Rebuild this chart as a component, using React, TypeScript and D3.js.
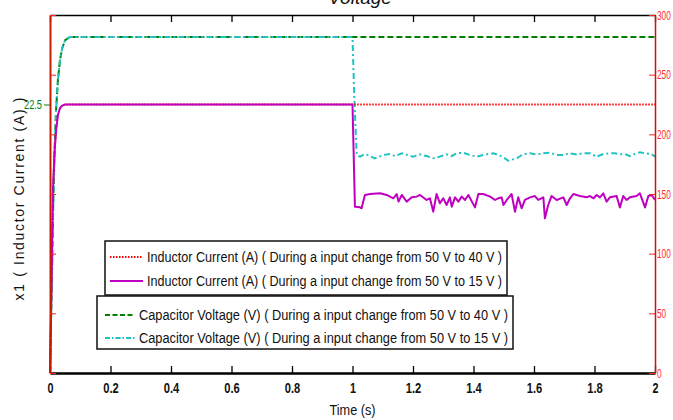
import React, { useEffect, useRef } from "react";
import * as d3 from "d3";

// time axis ticks (s)
const timeTicks = [0, 0.2, 0.4, 0.6, 0.8, 1, 1.2, 1.4, 1.6, 1.8, 2];
const voltTicks = [0, 50, 100, 150, 200, 250, 300];

// start-up transient, shared by both runs
const tStartV = [0, 0.004, 0.008, 0.011, 0.015, 0.02, 0.026, 0.033, 0.04, 0.05, 0.066];
const vStart = [0, 50, 105, 145, 185, 220, 245, 262, 272, 279, 281.5];
const tStartI = [0, 0.004, 0.007, 0.01, 0.015, 0.02, 0.026, 0.033, 0.04, 0.05];
const iStart = [0, 6, 11, 15.5, 18.5, 20.3, 21.6, 22.2, 22.4, 22.5];

// after the input step to 15 V (t >= 1 s)
const tStepI = [
  1.0, 1.008, 1.025, 1.03, 1.041, 1.058, 1.091, 1.113, 1.135, 1.146, 1.152, 1.163, 1.179, 1.196,
  1.212, 1.223, 1.245, 1.256, 1.267, 1.278, 1.289, 1.3, 1.311, 1.322, 1.328, 1.339, 1.35, 1.361,
  1.372, 1.383, 1.405, 1.416, 1.432, 1.455, 1.471, 1.482, 1.493, 1.499, 1.51, 1.526, 1.537, 1.548,
  1.559, 1.57, 1.587, 1.603, 1.614, 1.631, 1.636, 1.647, 1.658, 1.675, 1.697, 1.708, 1.719, 1.73,
  1.752, 1.774, 1.785, 1.797, 1.807, 1.818, 1.829, 1.84, 1.851, 1.873, 1.884, 1.895, 1.906, 1.917,
  1.939, 1.95, 1.967, 1.978, 1.989, 2.0,
];
const iStep = [
  22.5, 13.94, 13.88, 13.8, 14.92, 15.0, 15.06, 14.92, 14.64, 15.0, 14.36, 14.92, 14.36, 14.72,
  14.78, 14.92, 14.5, 14.64, 13.52, 15.0, 14.22, 14.64, 14.08, 14.72, 13.94, 14.72, 14.36, 14.78,
  14.5, 14.92, 13.88, 15.0, 15.0, 14.78, 14.5, 14.64, 14.72, 14.08, 14.5, 15.0, 13.52, 14.72,
  13.8, 14.5, 14.72, 14.83, 14.5, 14.72, 12.96, 14.08, 14.83, 14.5, 14.72, 14.08, 14.64, 15.0,
  14.83, 14.72, 14.83, 14.64, 14.92, 14.72, 15.06, 14.36, 14.72, 14.83, 13.88, 14.83, 14.5, 14.72,
  14.83, 15.06, 13.88, 14.83, 14.92, 14.5,
];
const tStepV = [
  1.0, 1.006, 1.014, 1.025, 1.041, 1.058, 1.074, 1.102, 1.124, 1.141, 1.163, 1.185, 1.201, 1.223,
  1.245, 1.267, 1.289, 1.311, 1.328, 1.344, 1.366, 1.388, 1.41, 1.432, 1.449, 1.466, 1.482, 1.499,
  1.515, 1.543, 1.565, 1.587, 1.609, 1.631, 1.653, 1.675, 1.697, 1.719, 1.741, 1.763, 1.785, 1.807,
  1.829, 1.85, 1.867, 1.884, 1.9, 1.917, 1.933, 1.95, 1.967, 1.989, 2.0,
];
const vStep = [
  281.5, 230, 182.7, 181.3, 183.5, 181.8, 179.9, 182.7, 183.5, 181.8, 184.1, 182.4, 181.3, 183.2,
  181.8, 179.9, 181.3, 183.2, 181.8, 184.1, 184.6, 182.7, 181.3, 182.7, 183.5, 184.1, 182.7, 180.7,
  177.9, 179.9, 183.5, 184.1, 183.0, 184.1, 184.6, 182.7, 182.7, 184.1, 183.2, 184.1, 184.1, 181.3,
  183.5, 184.1, 184.1, 183.2, 183.5, 181.8, 183.5, 184.9, 184.1, 183.5, 181.3,
];

const legendRows = [
  "Inductor Current (A) ( During a input change from 50 V to 40 V )",
  "Inductor Current (A) ( During a input change from 50 V to 15 V )",
  "Capacitor Voltage (V) ( During a input change from 50 V to 40 V )",
  "Capacitor Voltage (V) ( During a input change from 50 V to 15 V )",
];

const FONT = "'Liberation Sans Narrow', 'Arial Narrow', 'Liberation Sans', Arial, sans-serif";

// narrow look: squeeze a label to roughly Arial Narrow width
const narrowWidth = (s: string, digit: number, dot: number) =>
  s.split("").reduce((acc, c) => acc + (c === "." ? dot : digit), 0);

export default function App() {
  const ref = useRef<SVGSVGElement>(null);

  useEffect(() => {
    const node = ref.current;
    if (!node) return;
    const w = 673;
    const h = 420;
    const m = { t: 15, r: 18, b: 47, l: 50 };
    const svg = d3.select(node);
    svg.selectAll("*").remove();

    const x = d3.scaleLinear().domain([0, 2]).range([m.l, w - m.r]);
    const yV = d3.scaleLinear().domain([0, 300]).range([h - m.b, m.t]);
    const yI = d3.scaleLinear().domain([0, 30]).range([h - m.b, m.t]);

    const zip = (ts: number[], vs: number[]) => ts.map((t, i) => [t, vs[i]] as [number, number]);
    const green = [...zip(tStartV, vStart), [2, 281.5] as [number, number]];
    const cyan = [...zip(tStartV, vStart), ...zip(tStepV, vStep)];
    const red = [...zip(tStartI, iStart), [2, 22.5] as [number, number]];
    const purple = [...zip(tStartI, iStart), ...zip(tStepI, iStep)];

    const lineV = d3.line<[number, number]>().x(d => x(d[0])).y(d => yV(d[1]));
    const lineI = d3.line<[number, number]>().x(d => x(d[0])).y(d => yI(d[1]));

    const g = svg.append("g");

    // series (under/over order as in the original)
    g.append("path").attr("d", lineV(green)).attr("fill", "none")
      .attr("stroke", "#008000").attr("stroke-width", 2).attr("stroke-dasharray", "6,3");
    g.append("path").attr("d", lineV(cyan)).attr("fill", "none")
      .attr("stroke", "#1fc3c3").attr("stroke-width", 2).attr("stroke-dasharray", "6,3,2,3");
    g.append("path").attr("d", lineI(red)).attr("fill", "none")
      .attr("stroke", "#ff0000").attr("stroke-width", 1.8).attr("stroke-dasharray", "1.5,1.5");
    g.append("path").attr("d", lineI(purple)).attr("fill", "none")
      .attr("stroke", "#c000c0").attr("stroke-width", 2).attr("stroke-linejoin", "round");

    // top and bottom spines with inward ticks
    const top = g.append("g").attr("transform", `translate(0,${m.t})`)
      .call(d3.axisTop(x).tickValues(timeTicks).tickSizeInner(-7).tickSizeOuter(0).tickFormat(() => ""));
    top.select(".domain").attr("stroke-width", 1.5);
    top.selectAll(".tick line").attr("stroke-width", 1.3);

    const bottom = g.append("g").attr("transform", `translate(0,${h - m.b})`)
      .call(d3.axisBottom(x).tickValues(timeTicks).tickSizeInner(-7).tickSizeOuter(0).tickPadding(10)
        .tickFormat(d => d3.format("")(+d)));
    bottom.select(".domain").attr("stroke-width", 2.5);
    bottom.selectAll(".tick line").attr("stroke-width", 1.3);
    bottom.selectAll<SVGTextElement, number>("text").attr("font-family", FONT).attr("font-size", 14)
      .attr("font-weight", "bold").attr("fill", "#111")
      .attr("textLength", d => narrowWidth(d3.format("")(d), 6, 3.5))
      .attr("lengthAdjust", "spacingAndGlyphs");

    // right voltage axis (red), ticks mirrored on the left
    const right = g.append("g").attr("transform", `translate(${w - m.r},0)`)
      .call(d3.axisRight(yV).tickValues(voltTicks).tickSizeInner(-6).tickSizeOuter(0).tickPadding(2)
        .tickFormat(d => String(d)));
    right.select(".domain").attr("stroke", "#d01010").attr("stroke-width", 1.5);
    right.selectAll(".tick line").attr("stroke", "#ff2020");
    right.selectAll<SVGTextElement, number>("text")
      .attr("font-family", FONT).attr("font-size", 13.5).attr("fill", "#ff2a2a")
      .attr("textLength", d => narrowWidth(String(d), 4.6, 2.5))
      .attr("lengthAdjust", "spacingAndGlyphs");

    const leftTicks = g.append("g").attr("transform", `translate(${m.l},0)`)
      .call(d3.axisLeft(yV).tickValues(voltTicks).tickSizeInner(-6).tickSizeOuter(0).tickFormat(() => ""));
    leftTicks.select(".domain").attr("stroke", "#c81a00").attr("stroke-width", 2);
    leftTicks.selectAll(".tick line").attr("stroke", "#ff2020");

    // left current axis (green), single tick
    const left = g.append("g").attr("transform", `translate(${m.l},0)`)
      .call(d3.axisLeft(yI).tickValues([22.5]).tickSizeInner(6).tickSizeOuter(0).tickPadding(2)
        .tickFormat(d => String(d)));
    left.select(".domain").remove();
    left.selectAll(".tick line").attr("stroke", "#008000");
    left.selectAll("text").attr("font-family", FONT).attr("font-size", 13.5).attr("fill", "#008000")
      .attr("textLength", 18).attr("lengthAdjust", "spacingAndGlyphs");

    // axis titles
    svg.append("text")
      .attr("x", x(1)).attr("y", h - 5).attr("text-anchor", "middle")
      .attr("font-family", FONT).attr("font-size", 15).attr("fill", "#111")
      .attr("textLength", 46).attr("lengthAdjust", "spacingAndGlyphs")
      .text("Time (s)");
    svg.append("text")
      .attr("transform", `translate(24,${(m.t + h - m.b) / 2 + 5}) rotate(-90)`)
      .attr("text-anchor", "middle").attr("font-family", "'Liberation Sans', Arial, sans-serif")
      .attr("font-size", 14).attr("fill", "#111")
      .attr("textLength", 203).attr("lengthAdjust", "spacing")
      .text("x1 ( Inductor Current (A) )");
    svg.append("text")
      .attr("x", 360).attr("y", 4).attr("text-anchor", "middle")
      .attr("font-family", "'Liberation Sans', Arial, sans-serif").attr("font-style", "italic")
      .attr("font-size", 19).attr("fill", "#111")
      .text("Voltage");

    // legends
    const boxes = [
      { x: 105, y: 241, w: 402, h: 54, sx0: 110, sx1: 143, tx: 147, tw: 355, rows: [0, 1], ys: [257, 281] },
      { x: 97, y: 296, w: 416, h: 53, sx0: 105, sx1: 135, tx: 139, tw: 369, rows: [2, 3], ys: [315, 338] },
    ];
    const styles = [
      { stroke: "#ff0000", dash: "1.5,1.5", sw: 1.8 },
      { stroke: "#c000c0", dash: null, sw: 2 },
      { stroke: "#008000", dash: "5,2.5", sw: 2 },
      { stroke: "#1fc3c3", dash: "5,2,1.5,2", sw: 2 },
    ];
    boxes.forEach(b => {
      const lg = svg.append("g");
      lg.append("rect").attr("x", b.x).attr("y", b.y).attr("width", b.w).attr("height", b.h)
        .attr("fill", "#fff").attr("stroke", "#111").attr("stroke-width", 1.5);
      b.rows.forEach((r, i) => {
        const s = styles[r];
        lg.append("line").attr("x1", b.sx0).attr("x2", b.sx1).attr("y1", b.ys[i]).attr("y2", b.ys[i])
          .attr("stroke", s.stroke).attr("stroke-width", s.sw).attr("stroke-dasharray", s.dash);
        lg.append("text").attr("x", b.tx).attr("y", b.ys[i] + 5)
          .attr("font-family", FONT).attr("font-size", 14).attr("fill", "#111")
          .attr("textLength", b.tw).attr("lengthAdjust", "spacingAndGlyphs")
          .text(legendRows[r]);
      });
    });
  }, []);

  return (
    <svg
      ref={ref}
      width={673}
      height={420}
      style={{ position: "absolute", left: 0, top: 0, background: "#fff", display: "block" }}
    />
  );
}
